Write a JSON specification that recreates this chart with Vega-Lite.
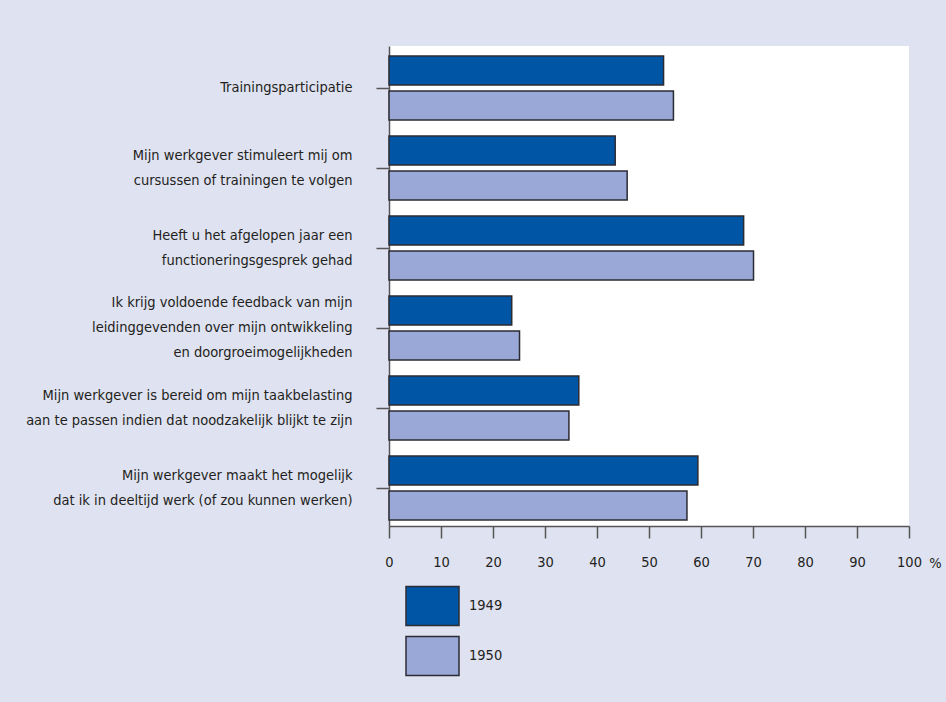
{
  "$schema": "https://vega.github.io/schema/vega-lite/v6.json",
  "autosize": {"type": "none"},
  "padding": {"left": 389, "top": 46, "right": 37, "bottom": 176},
  "width": 520,
  "height": 480,
  "background": "#dfe2f1",
  "config": {
    "view": {"fill": "white", "stroke": null},
    "font": "DejaVu Sans Condensed",
    "axis": {"labelFont": "DejaVu Sans Condensed", "labelColor": "#231f20", "titleFont": "DejaVu Sans Condensed"},
    "legend": {"labelFont": "DejaVu Sans Condensed"}
  },
  "data": {
    "values": [
      {"item": "Trainingsparticipatie", "year": "1949", "pct": 52.8},
      {"item": "Trainingsparticipatie", "year": "1950", "pct": 54.7},
      {"item": "Mijn werkgever stimuleert mij om|cursussen of trainingen te volgen", "year": "1949", "pct": 43.5},
      {"item": "Mijn werkgever stimuleert mij om|cursussen of trainingen te volgen", "year": "1950", "pct": 45.8},
      {"item": "Heeft u het afgelopen jaar een|functioneringsgesprek gehad", "year": "1949", "pct": 68.2},
      {"item": "Heeft u het afgelopen jaar een|functioneringsgesprek gehad", "year": "1950", "pct": 70.1},
      {"item": "Ik krijg voldoende feedback van mijn|leidinggevenden over mijn ontwikkeling|en doorgroeimogelijkheden", "year": "1949", "pct": 23.6},
      {"item": "Ik krijg voldoende feedback van mijn|leidinggevenden over mijn ontwikkeling|en doorgroeimogelijkheden", "year": "1950", "pct": 25.1},
      {"item": "Mijn werkgever is bereid om mijn taakbelasting|aan te passen indien dat noodzakelijk blijkt te zijn", "year": "1949", "pct": 36.5},
      {"item": "Mijn werkgever is bereid om mijn taakbelasting|aan te passen indien dat noodzakelijk blijkt te zijn", "year": "1950", "pct": 34.6},
      {"item": "Mijn werkgever maakt het mogelijk|dat ik in deeltijd werk (of zou kunnen werken)", "year": "1949", "pct": 59.4},
      {"item": "Mijn werkgever maakt het mogelijk|dat ik in deeltijd werk (of zou kunnen werken)", "year": "1950", "pct": 57.3}
    ]
  },
  "mark": {"type": "bar", "stroke": "#2b2b33", "strokeWidth": 1.5},
  "encoding": {
    "y": {
      "field": "item",
      "type": "nominal",
      "sort": null,
      "scale": {"paddingInner": 0.2, "paddingOuter": 0.1, "align": 0.625},
      "axis": {
        "title": null,
        "labelExpr": "split(datum.label, '|')",
        "labelOffset": {"expr": "-12.5 * (length(split(datum.label, '|')) - 1)"},
        "labelFontSize": 14.5,
        "labelLineHeight": 25,
        "labelLimit": 0,
        "labelPadding": 24,
        "tickSize": 13,
        "tickWidth": 1.5,
        "tickColor": "#555555",
        "domainColor": "#555555",
        "domainWidth": 1.5
      }
    },
    "yOffset": {
      "field": "year",
      "type": "nominal",
      "scale": {"paddingInner": 0.17, "paddingOuter": 0}
    },
    "x": {
      "field": "pct",
      "type": "quantitative",
      "scale": {"domain": [0, 100], "nice": false},
      "axis": {
        "title": "%",
        "titleX": 546,
        "titleY": 30,
        "titleAlign": "center",
        "titleBaseline": "top",
        "titleFontSize": 14.5,
        "titleFontWeight": "normal",
        "titleColor": "#231f20",
        "values": [0, 10, 20, 30, 40, 50, 60, 70, 80, 90, 100],
        "grid": false,
        "labelFontSize": 14.5,
        "labelPadding": 17,
        "labelFlush": false,
        "labelOverlap": false,
        "tickSize": 12,
        "tickWidth": 1.5,
        "tickColor": "#555555",
        "domainColor": "#555555",
        "domainWidth": 1.5
      }
    },
    "color": {
      "field": "year",
      "type": "nominal",
      "scale": {"domain": ["1949", "1950"], "range": ["#0055a5", "#99a8d6"]},
      "legend": {
        "title": null,
        "orient": "none",
        "legendX": 16,
        "legendY": 535,
        "padding": 0,
        "symbolType": "M-1,-0.736H1V0.736H-1Z",
        "symbolSize": 2809,
        "symbolStrokeColor": "#2b2b33",
        "symbolStrokeWidth": 1.5,
        "symbolOpacity": 1,
        "clipHeight": 50,
        "rowPadding": 0,
        "labelOffset": 9,
        "labelFontSize": 14.5,
        "labelColor": "#231f20"
      }
    }
  }
}
